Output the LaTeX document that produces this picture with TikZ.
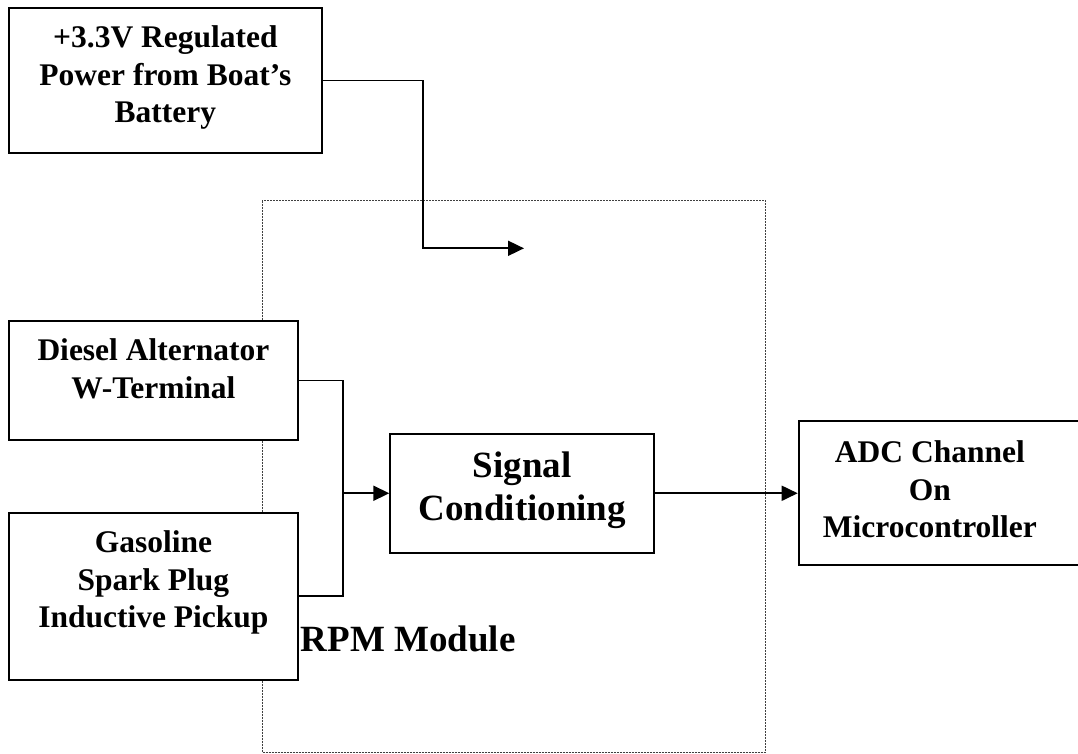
\documentclass[tikz,border=0pt]{standalone}
\usepackage{fontspec}
\setmainfont{Liberation Serif}
\usetikzlibrary{arrows.meta}

\begin{document}
\begin{tikzpicture}[x=1pt, y=-1pt,
    blk/.style={draw, fill=white, line width=1.8pt, rectangle, anchor=north west, inner xsep=0pt,
                inner ysep=0pt, align=flush center, font=\fontsize{31.5}{37.5}\selectfont\bfseries},
    big/.style={font=\fontsize{37}{43.3}\selectfont\bfseries},
    wire/.style={line width=1.8pt},
    feed/.style={wire, -{Triangle[length=16pt, width=15pt]}},
    frame/.style={line width=0.7pt, color=black!75, dash pattern=on 2pt off 1pt}]

  \path[use as bounding box, fill=white] (0,0) rectangle (1078,753);

  % ---- the RPM module outline -------------------------------------------------
  \draw[frame] (262,200.7) rectangle (765.3,752.2);
  \node[big, anchor=base west, inner sep=0pt] (rpm) at (300.7,651.7) {RPM Module};

  % ---- blocks -------------------------------------------------------------------
  \node[blk, text width=312.4pt, text height=39.4pt, text depth=105pt] (pwr)
    at (8.3,7.3) {+3.3V Regulated\\Power from Boat’s\\Battery};
  \node[blk, text width=288.4pt, text height=40pt, text depth=79.3pt] (dsl)
    at (8.3,320) {Diesel Alternator\\W-Terminal};
  \node[blk, text width=288.4pt, text height=40pt, text depth=127.3pt] (gas)
    at (8.3,511.7) {Gasoline\\Spark Plug\\Inductive Pickup};
  \node[blk, big, text width=264pt, text height=44pt, text depth=75.3pt] (sig)
    at (389.3,432.7) {Signal\\Conditioning};
  \node[blk, text width=284.3pt, text height=41.7pt, text depth=102.3pt,
        execute at begin node={\rightskip=21.7pt plus 1fil}] (adc)
    at (797.7,420) {ADC Channel\\On\\Microcontroller};

  % ---- connectors ---------------------------------------------------------------
  \coordinate (pwrbend) at (422.7,248.3);
  \coordinate (pwrend) at (524,248.3);
  \draw[feed] (pwr.east) -| (pwrbend) -- (pwrend);

  \coordinate (merge) at ([xshift=-46pt]sig.west);
  \draw[wire] (dsl.east) -| (merge);
  \draw[wire] (gas.east) -| (merge);
  \draw[feed] (merge) -- (sig.west);
  \draw[feed] (sig.east) -- (sig.east -| adc.west);
\end{tikzpicture}
\end{document}
